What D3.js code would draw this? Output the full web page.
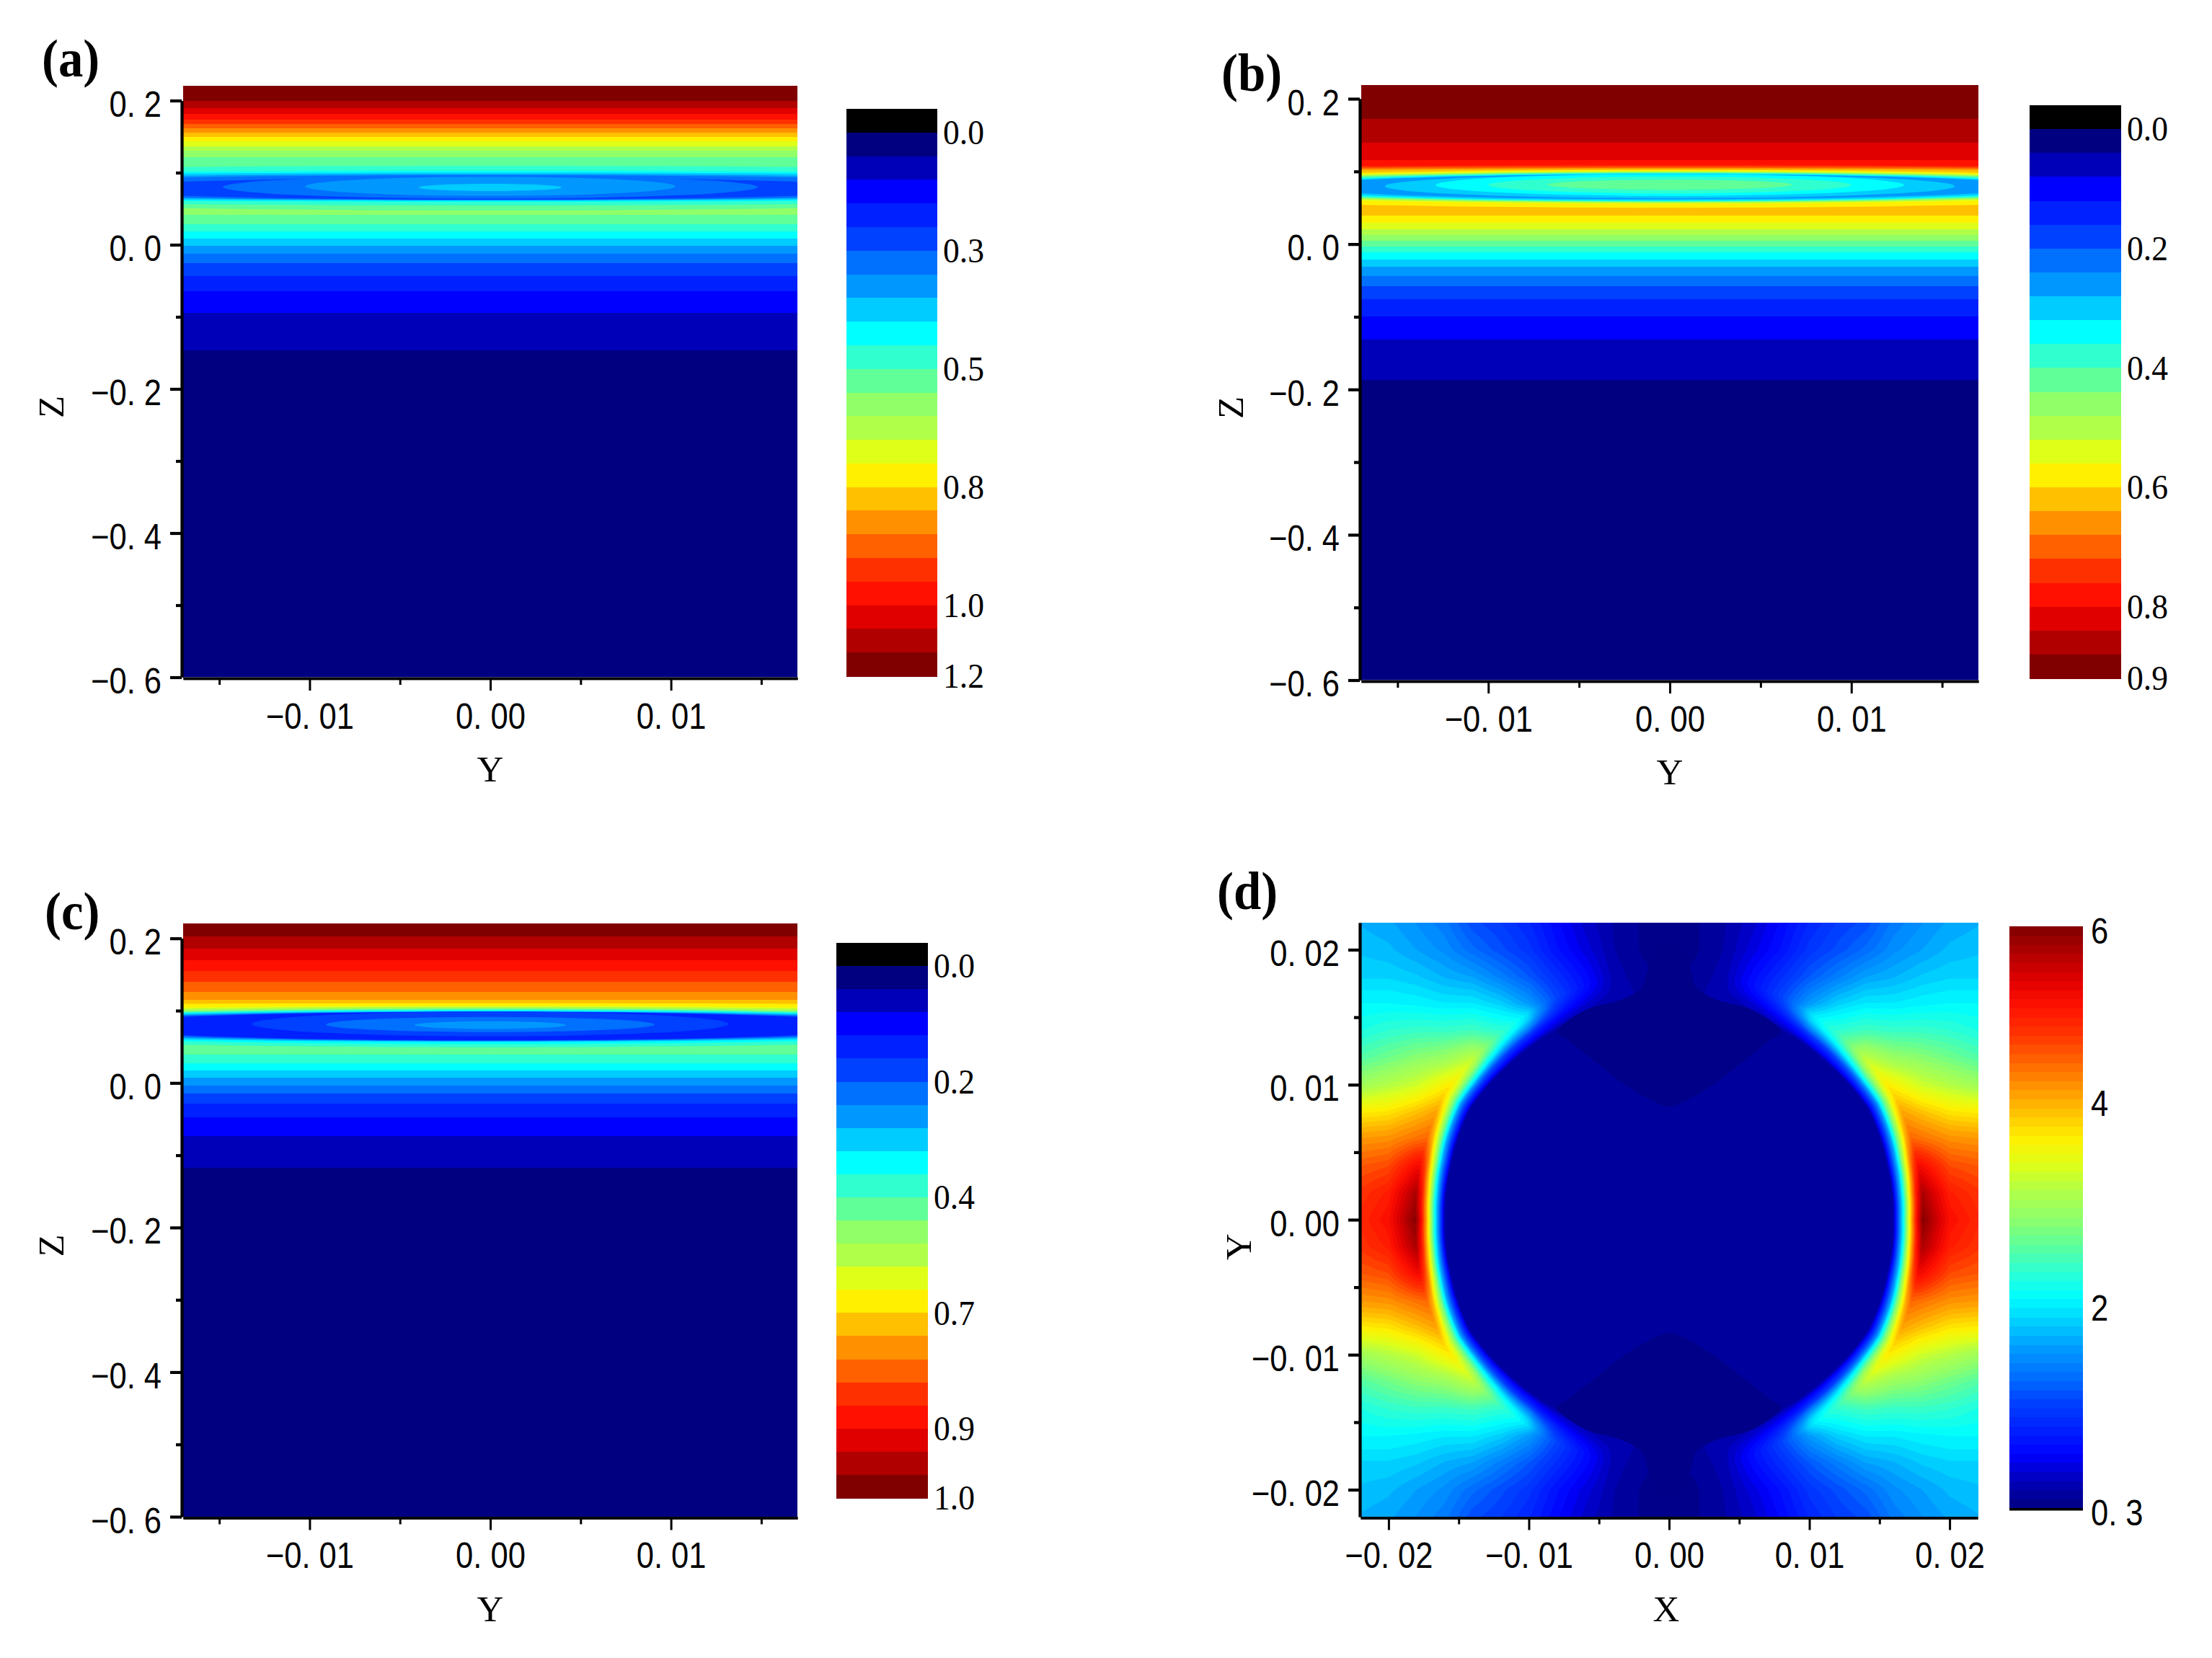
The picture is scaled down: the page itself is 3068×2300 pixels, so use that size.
<!DOCTYPE html>
<html><head><meta charset="utf-8">
<style>html,body{margin:0;padding:0;background:#fff}svg{display:block}</style>
<script src="https://cdnjs.cloudflare.com/ajax/libs/d3/7.8.5/d3.min.js"></script>
</head><body><svg id="c" width="3068" height="2300" viewBox="0 0 3068 2300"></svg>
<script>
// ---------- shared colour levels ----------
const jetLevels=["#000000","#000080","#0000b8","#0000ff","#0020ff","#0040ff","#0070ff","#0098ff","#00ccff","#00ffff","#30ffd0","#60ff98","#90ff68","#b0ff48","#e0ff18","#fff000","#ffc000","#ff9000","#ff6000","#ff3000","#ff1000","#e00000","#b00000","#800000"];
const barLabelSlots=[1,6,11,16,21,24];
const zMajor=[0.2,0,-0.2,-0.4,-0.6], zMinor=[0.1,-0.1,-0.3,-0.5];
const yMajor=[-0.01,0,0.01], yMinor=[-0.015,-0.005,0.005,0.015];
const dMajor=[-0.02,-0.01,0,0.01,0.02], dMinor=[-0.015,-0.005,0.005,0.015];

// ---------- panel (a): band lower edges in Z, band levels, nested dip lenses [zTop,zBottom,halfWidthY,level]
const aEnds=[.1995,.1895,.1815,.1738,.1675,.1615,.1555,.1495,.1435,.1365,.1305,.1218,.1085,.1012,.0978,.0948,.0918,.0868,.0695,.0675,.0658,.0638,.0622,.0578,.0525,.0418,.0285,.0185,.0085,-.0015,-.0125,-.0255,-.0435,-.0645,-.0945,-.1465,-.6];
const aLevels=[23,22,21,20,19,18,17,16,15,14,13,12,11,10,9,8,7,6,5,6,7,8,9,10,11,12,11,10,9,8,7,6,5,4,3,2,1];
const aLens=[[.1135,.0475,.04,11],[.1095,.0545,.05,10],[.1025,.0595,.05,9],[.100,.061,.05,8],[.098,.062,.035,7],[.0965,.062,.03,6],[.093,.0625,.022,5],[.096,.064,.0148,6],[.0942,.0678,.01025,7],[.0845,.0745,.00395,8]];
const aBarLabels=["0.0","0.3","0.5","0.8","1.0","1.2"];

// ---------- panel (b)
const bEnds=[.1722,.1395,.1157,.1068,.1028,.1003,.0989,.0974,.0964,.0954,.0944,.0934,.0924,.0909,.0894,.086,.0681,.0671,.0661,.0651,.0642,.0632,.0617,.0592,.0532,.0394,.0293,.0209,.0126,.005,-.003,-.0114,-.0211,-.031,-.0439,-.0578,-.0757,-.0995,-.1317,-.1871,-.6];
const bLevels=[23,22,21,20,19,18,17,16,15,14,13,12,11,10,9,8,7,8,9,10,11,12,13,14,15,16,15,14,13,12,11,10,9,8,7,6,5,4,3,2,1];
const bLens=[[.1085,.0582,.06,19],[.1065,.0582,.06,18],[.1048,.0582,.06,17],[.1035,.0496,.05,16],[.1021,.05,.0319,15],[.1008,.0555,.0297,14],[.0999,.0565,.0272,13],[.0992,.0575,.0257,12],[.0986,.0582,.0247,11],[.0979,.0589,.0238,10],[.0972,.0595,.0226,9],[.0966,.0602,.0215,8],[.0962,.0619,.02,7],[.0962,.0632,.0157,8],[.0962,.0664,.0129,9],[.0929,.0698,.01,10],[.0886,.0748,.00675,11]];
const bBarLabels=["0.0","0.2","0.4","0.6","0.8","0.9"];

// ---------- panel (c)
const cEnds=[.2027,.1857,.1698,.1548,.1399,.1259,.1153,.1093,.1037,.1025,.1015,.1005,.0995,.0985,.097,.0955,.094,.093,.0915,.0661,.0646,.0631,.0616,.0596,.0581,.0531,.0395,.0272,.0172,.0073,-.0037,-.0147,-.0286,-.0473,-.0734,-.1173,-.6];
const cLevels=[23,22,21,20,19,18,17,16,15,14,13,12,11,10,9,8,7,6,5,4,5,6,7,8,9,10,11,10,9,8,7,6,5,4,3,2,1];
const cLens=[[.1103,.0654,.06,15],[.107,.0654,.035,14],[.1053,.0654,.033,13],[.1037,.0654,.03,12],[.1027,.0462,.0313,11],[.1017,.0495,.0342,10],[.1005,.0538,.0307,9],[.0995,.0568,.0314,8],[.099,.0576,.0272,7],[.0987,.0581,.0252,6],[.0985,.0586,.023,5],[.0983,.0591,.022,4],[.0985,.0646,.0132,5],[.0913,.0704,.0091,6],[.0853,.0748,.0042,7]];
const cBarLabels=["0.0","0.2","0.4","0.7","0.9","1.0"];

// ---------- panel (d): one quadrant of the field, rows by X, columns by Y
const dGridX=[0,.002,.004,.006,.008,.010,.012,.014,.016,.018,.020,.022];
const dGridY=[0,.002,.004,.006,.008,.010,.012,.014,.016,.018,.020,.022];
const dField=[
[.45,.45,.45,.45,.45,.45,.45,.45,.42,.36,.33,.33],
[.45,.45,.45,.45,.45,.45,.45,.45,.45,.4,.37,.37],
[.45,.45,.45,.45,.45,.45,.45,.6,.58,.5,.46,.45],
[.45,.45,.45,.45,.45,.8,1.2,1.1,.9,.8,.65,.58],
[.45,.45,.45,.8,1.5,2.2,2.2,1.7,1.25,1.05,.85,.78],
[3,3,3,3,3.2,3.3,3,2.4,1.65,1.3,1.1,1.0],
[6,6,5.8,5.2,4.6,4.0,3.0,2.35,1.88,1.5,1.25,1.15],
[6,6,5.5,4.8,4.3,3.9,3.2,2.45,2.0,1.68,1.4,1.25],
[6,5.9,5.2,4.6,4.15,3.6,2.95,2.4,2.0,1.75,1.58,1.48],
[6,5.75,5.2,4.4,3.9,3.3,2.85,2.4,2.05,1.85,1.68,1.6],
[5.15,5.0,4.65,4.2,3.7,3.15,2.7,2.35,2.08,1.9,1.78,1.7],
[4.9,4.8,4.55,4.15,3.65,3.0,2.55,2.25,2.08,1.9,1.82,1.75]];
const dInnerValue=.45;
const dRingAngle=[0,15,30,45,60,75,90];
const dRingRadius=[.0167,.0168,.0171,.0169,.0169,.0170,.0170];
const dRampOffset=[-.0007,-.0005,0,.0005,.0010,.0014];
const dRampShare=[0,.1,.3,.6,.87,1];
const dLobeX=[0,.00165,.0034,.0055,.00725,.008,.00755,.0058,.0034,.00195,.0015,.0009,0];
const dLobeY=[.0084,.00905,.0102,.0119,.01333,.0139,.01447,.0156,.0163,.0172,.0186,.020,.0205];
const dBarValues=[.3,2,4,6];
const dBarShares=[0,.346,.697,1];
const dBarLabelText=["6","4","2","0. 3"];
const dBarLabelCentre=[.9926,.696,.344,-.0074];

// ---------- layout ----------
const svg=d3.select("#c");
svg.append("rect").attr("width",3068).attr("height",2300).attr("fill","#fff");
const defs=svg.append("defs");
const SANS="'Liberation Sans',Arial,sans-serif", SERIF="'Liberation Serif','Times New Roman',serif";
const fmtZ=d=>d.toFixed(1).replace(".",". ").replace("-","\u2212");
const fmtY=d=>d.toFixed(2).replace(".",". ").replace("-","\u2212");
function narrow(sel,k){sel.each(function(){this.setAttribute("textLength",this.getComputedTextLength()*k);this.setAttribute("lengthAdjust","spacingAndGlyphs");});}

function axes(g,x,y,xMaj,xMin,yMaj,yMin,xFmt,yFmt,bottom,left){
  const style=(a,w)=>{a.selectAll("path").attr("stroke","#000").attr("stroke-width",w);
    a.selectAll("line").attr("stroke","#000");a.attr("font-family",null);};
  const bx=g.append("g").attr("transform",`translate(0,${bottom+1.5})`);
  bx.append("g").call(d3.axisBottom(x).tickValues(xMin).tickSize(9).tickSizeOuter(0).tickFormat("")).call(style,3.4).selectAll("line").attr("stroke-width",3);
  const xa=bx.append("g").call(d3.axisBottom(x).tickValues(xMaj).tickSize(17).tickSizeOuter(0).tickFormat(xFmt).tickPadding(17)).call(style,3.4);
  xa.selectAll("line").attr("stroke-width",3);
  xa.selectAll("text").attr("font-family",SANS).attr("font-size",50).attr("fill","#000").attr("dy","0.71em").call(narrow,.87);
  const ly=g.append("g").attr("transform",`translate(${left-2},0)`);
  ly.append("g").call(d3.axisLeft(y).tickValues(yMin).tickSize(8).tickSizeOuter(0).tickFormat("")).call(style,3.8).selectAll("line").attr("stroke-width",4.2);
  const ya=ly.append("g").call(d3.axisLeft(y).tickValues(yMaj).tickSize(16).tickSizeOuter(0).tickFormat(yFmt).tickPadding(12)).call(style,3.8);
  ya.selectAll("line").attr("stroke-width",4.2);
  ya.selectAll("text").attr("font-family",SANS).attr("font-size",50).attr("fill","#000").attr("dy","0.44em").call(narrow,.87);
}
function titles(g,xT,xPos,yPos,yT,yLabelX,yLabelY){
  g.append("text").attr("x",xPos).attr("y",yPos).attr("text-anchor","middle").attr("dy",".33em").attr("font-family",SERIF).attr("font-size",51).text(xT);
  g.append("text").attr("transform",`translate(${yLabelX},${yLabelY}) rotate(-90)`).attr("text-anchor","middle").attr("dy",".33em").attr("font-family",SERIF).attr("font-size",51).text(yT);
}
function letter(t,x,y){svg.append("text").attr("x",x).attr("y",y).attr("font-family",SERIF).attr("font-weight","bold").attr("font-size",74).call(narrow,.93).text(t).call(narrow,.93);}

function strip(id,L,ends,levels,lens,labels){
  const g=svg.append("g");
  const x=d3.scaleLinear().domain([-.017,.017]).range([L.left,L.right]);
  const y=d3.scaleLinear().domain([.2,-.6]).range([L.t2,L.tm6]);
  const top=L.top;
  defs.append("clipPath").attr("id","clip"+id).append("rect").attr("x",L.left).attr("y",top).attr("width",L.right-L.left).attr("height",L.tm6-top);
  const body=g.append("g").attr("clip-path",`url(#clip${id})`);
  body.selectAll("rect").data(ends).join("rect")
    .attr("x",L.left).attr("width",L.right-L.left)
    .attr("y",(d,i)=>i?y(ends[i-1]):top)
    .attr("height",(d,i)=>y(d)-(i?y(ends[i-1]):top))
    .attr("fill",(d,i)=>jetLevels[levels[i]]).attr("shape-rendering","crispEdges");
  body.selectAll("ellipse").data(lens).join("ellipse")
    .attr("cx",x(0)).attr("cy",d=>(y(d[0])+y(d[1]))/2)
    .attr("rx",d=>x(d[2])-x(0)).attr("ry",d=>(y(d[1])-y(d[0]))/2)
    .attr("fill",d=>jetLevels[d[3]]);
  axes(g,x,y,yMajor,yMinor,zMajor,zMinor,fmtY,fmtZ,L.tm6,L.left);
  titles(g,"Y",x(0),L.tm6+128,"Z",L.zX,y(-.225));
  const b=d3.scaleLinear().domain([0,24]).range([L.barTop,L.barBottom]);
  g.selectAll("rect.bar").data(jetLevels).join("rect").attr("class","bar")
    .attr("x",L.barLeft).attr("width",L.barRight-L.barLeft)
    .attr("y",(d,i)=>b(i)).attr("height",(d,i)=>b(i+1)-b(i)+.5)
    .attr("fill",d=>d).attr("shape-rendering","crispEdges");
  g.selectAll("text.bl").data(labels).join("text").attr("class","bl")
    .attr("x",L.barRight+8).attr("y",(d,i)=>b(barLabelSlots[i])).attr("dy",".33em")
    .attr("font-family",SERIF).attr("font-size",49).attr("textLength",57).attr("lengthAdjust","spacingAndGlyphs").text(d=>d);
}
strip("a",{left:254,right:1106,top:119,t2:139.5,tm6:939.5,zX:71,barLeft:1174,barRight:1300,barTop:151,barBottom:938},aEnds,aLevels,aLens,aBarLabels);
strip("b",{left:1888,right:2744,top:118,t2:137,tm6:943.5,zX:1707,barLeft:2815,barRight:2942,barTop:146,barBottom:941},bEnds,bLevels,bLens,bBarLabels);
strip("c",{left:254,right:1106,top:1281,t2:1301.7,tm6:2104,zX:71,barLeft:1160,barRight:1287,barTop:1308,barBottom:2078},cEnds,cLevels,cLens,cBarLabels);
letter("(a)",58,106);letter("(b)",1694,126);letter("(c)",62,1289);letter("(d)",1688,1261);

// ---------- panel (d)
(function(){
  const L={left:1888,right:2744,top:1280,bottom:2104};
  const g=svg.append("g");
  const x=d3.scaleLinear().domain([-.022,.022]).range([1887,2743]);
  const y=d3.scaleLinear().domain([.022,-.022]).range([L.top,L.bottom]);
  const colorOf=d3.scaleLinear().domain(d3.range(23).map(i=>i/22)).range(jetLevels.slice(1)).interpolate(d3.interpolateRgb);
  const share=d3.scaleLinear().domain(dBarValues).range(dBarShares).clamp(true);
  const ringR=d3.scaleLinear().domain(dRingAngle).range(dRingRadius);
  const ramp=d3.scaleLinear().domain(dRampOffset).range(dRampShare).clamp(true);
  const ix=d3.scaleLinear().domain(dGridX).range(d3.range(dGridX.length)).clamp(true);
  const iy=d3.scaleLinear().domain(dGridY).range(d3.range(dGridY.length)).clamp(true);
  function table(a,b){
    const i=ix(a),j=iy(b),i0=Math.min(Math.floor(i),10),j0=Math.min(Math.floor(j),10),s=i-i0,t=j-j0;
    return d3.interpolateNumber(
      d3.interpolateNumber(dField[i0][j0],dField[i0][j0+1])(t),
      d3.interpolateNumber(dField[i0+1][j0],dField[i0+1][j0+1])(t))(s);
  }
  const step=2, nx=Math.ceil((L.right-L.left)/step), ny=Math.ceil((L.bottom-L.top)/step);
  const values=new Float64Array(nx*ny);
  for(let j=0;j<ny;j++)for(let i=0;i<nx;i++){
    const a=Math.abs(x.invert(L.left+(i+.5)*step)), b=Math.abs(y.invert(L.top+(j+.5)*step));
    const r=Math.hypot(a,b), th=Math.atan2(b,a)*180/Math.PI;
    values[j*nx+i]=dInnerValue+(table(a,b)-dInnerValue)*ramp(r-ringR(th));
  }
  const N=64;
  const thr=d3.range(1,N).map(k=>share.invert(k/N));
  defs.append("clipPath").attr("id","clipd").append("rect").attr("x",L.left).attr("y",L.top).attr("width",L.right-L.left).attr("height",L.bottom-L.top);
  const body=g.append("g").attr("clip-path","url(#clipd)");
  body.append("rect").attr("x",L.left).attr("y",L.top).attr("width",L.right-L.left).attr("height",L.bottom-L.top).attr("fill",colorOf(.5/N));
  const paths=body.append("g").attr("transform",`translate(${L.left},${L.top}) scale(${step})`);
  const geo=d3.geoPath();
  paths.selectAll("path").data(d3.contours().size([nx,ny]).thresholds(thr)(values)).join("path")
    .attr("d",geo).attr("fill",(d,i)=>colorOf((i+1.5)/N));
  const half=dLobeX.map((d,i)=>[d,dLobeY[i]]);
  const outline=half.slice().reverse().map(p=>[-p[0],p[1]]).concat(half.slice(1));
  [1,-1].forEach(sgn=>body.append("path")
    .attr("d",d3.line().x(p=>x(p[0])).y(p=>y(sgn*p[1])).curve(d3.curveCatmullRomClosed)(outline))
    .attr("fill","#000088"));
  axes(g,x,y,dMajor,dMinor,dMajor,dMinor,fmtY,fmtY,L.bottom,L.left);
  titles(g,"X",x(0)-4,L.bottom+128,"Y",1718,y(-.002));
  const bar={left:2787,right:2889,top:1285,bottom:2092};
  const b=d3.scaleLinear().domain([1,0]).range([bar.top,bar.bottom]);
  g.selectAll("rect.dbar").data(d3.range(N)).join("rect").attr("class","dbar")
    .attr("x",bar.left).attr("width",bar.right-bar.left)
    .attr("y",k=>b((k+1)/N)).attr("height",k=>b(k/N)-b((k+1)/N)+.5)
    .attr("fill",k=>colorOf((k+.5)/N)).attr("shape-rendering","crispEdges");
  g.append("rect").attr("x",bar.left).attr("width",bar.right-bar.left).attr("y",bar.bottom).attr("height",3.5).attr("fill","#000");
  g.selectAll("text.dbl").data(dBarLabelText).join("text").attr("class","dbl")
    .attr("x",bar.right+11).attr("y",(d,i)=>b(dBarLabelCentre[i])).attr("dy",".36em")
    .attr("font-family",SANS).attr("font-size",50).text(d=>d).call(narrow,.87);
})();
</script></body></html>
